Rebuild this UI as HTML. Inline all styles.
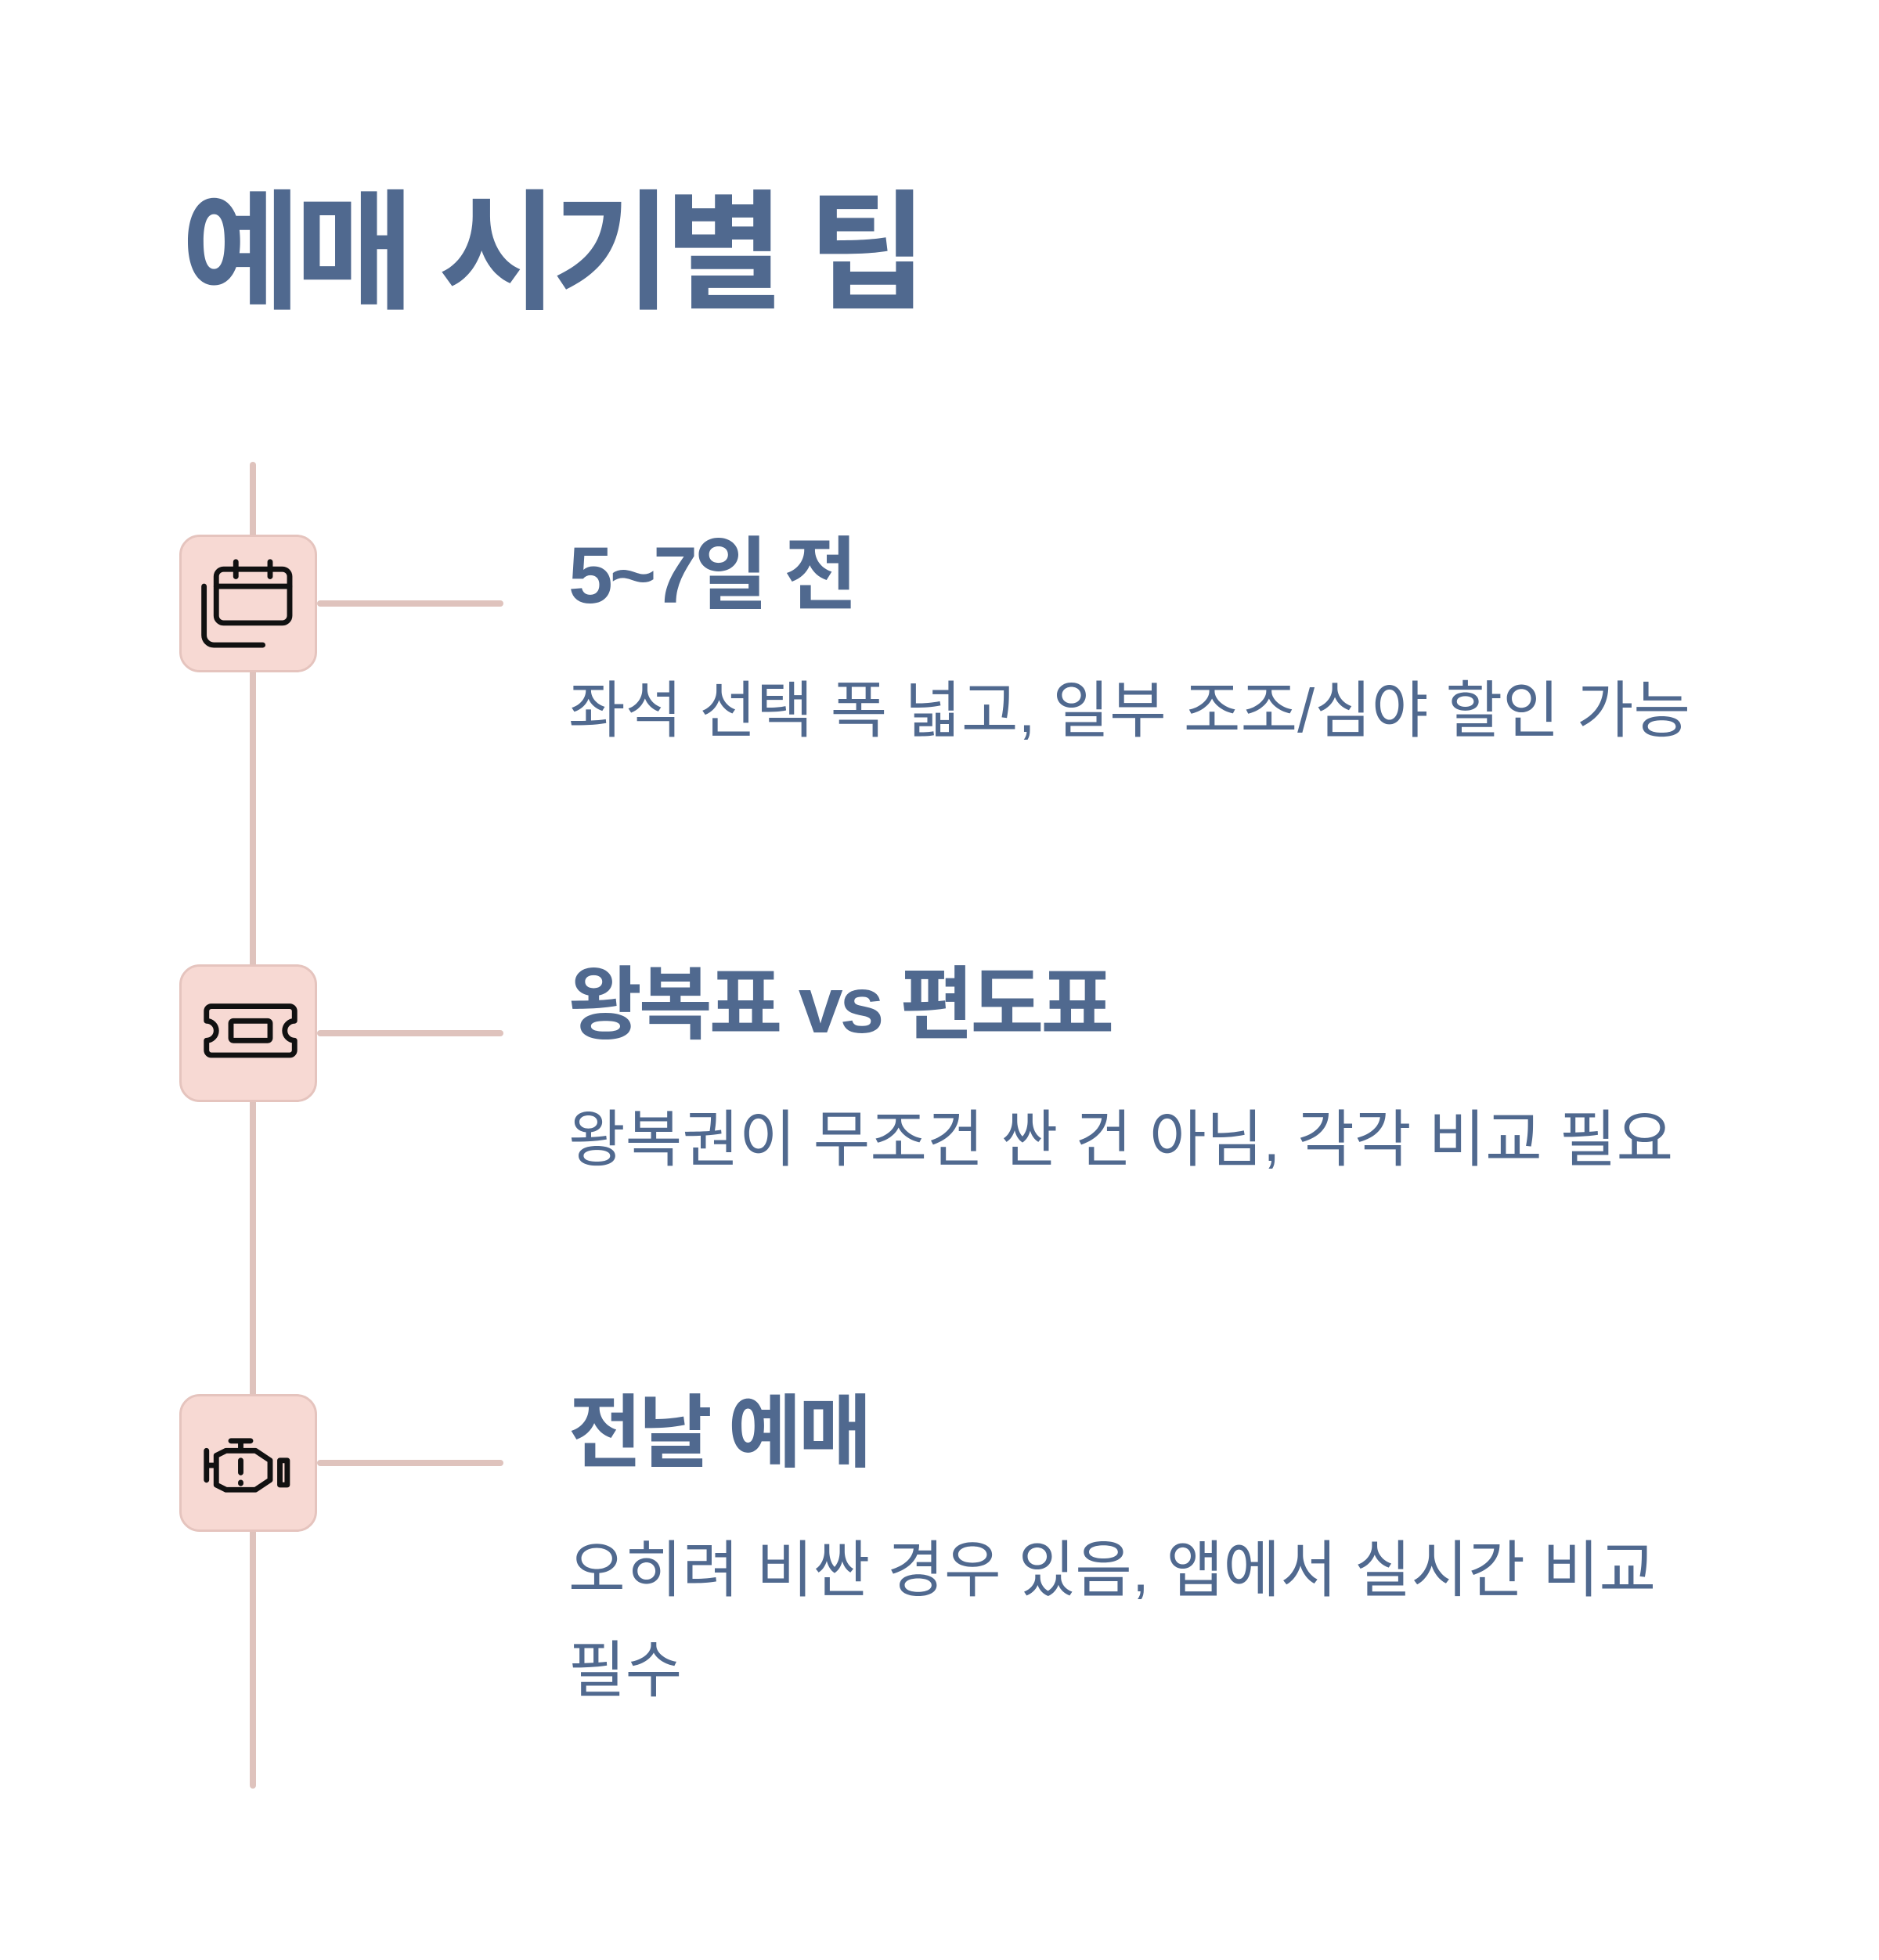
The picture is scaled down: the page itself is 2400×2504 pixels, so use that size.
<!DOCTYPE html>
<html><head><meta charset="utf-8"><style>
html,body{margin:0;padding:0;background:#fff;}
body{width:2400px;height:2504px;position:relative;overflow:hidden;font-family:"Liberation Sans","Noto Sans CJK KR",sans-serif;color:#50698f;}
.t{position:absolute;white-space:nowrap;line-height:1;}
.title{left:232px;top:242px;font-size:166px;font-weight:700;letter-spacing:-8px;}
.h{left:726px;font-size:102px;font-weight:700;letter-spacing:-4px;}
.d{left:726px;font-size:79px;font-weight:400;letter-spacing:0px;}
.box{position:absolute;left:229px;width:176px;height:176px;border-radius:26px;background:#f7d9d3;border:3px solid #e5c4be;box-sizing:border-box;}
.hl{position:absolute;left:405px;width:238px;height:8px;background:#dfc3bd;border-radius:4px;}
.box svg{position:absolute;left:13px;top:13px;}
</style></head><body>
<div class="t title">예매 시기별 팁</div>
<div style="position:absolute;left:319px;top:590px;width:8px;height:1695px;background:#dfc3bd;border-radius:4px;"></div>

<div class="hl" style="top:767px"></div>
<div class="box" style="top:683px"><svg width="150" height="150" viewBox="0 0 24 24" fill="none" stroke="#111" stroke-width="1.1" stroke-linecap="round" stroke-linejoin="round"><rect x="5" y="4.5" width="15" height="11" rx="1.5"/><path d="M5 8h15M9 3v3M16 3v3"/><path d="M2.5 8v10a2 2 0 0 0 2 2h10"/></svg></div>
<div class="t h" style="top:684px">5~7일 전</div>
<div class="t d" style="top:868px">좌석 선택 폭 넓고, 일부 조조/심야 할인 가능</div>

<div class="hl" style="top:1316px"></div>
<div class="box" style="top:1232px"><svg width="150" height="150" viewBox="0 0 24 24" fill="none" stroke="#111" stroke-width="1.1" stroke-linecap="round" stroke-linejoin="round"><path d="M3 7a1 1 0 0 1 1-1h16a1 1 0 0 1 1 1v2a2 2 0 0 0 0 4v2a1 1 0 0 1-1 1H4a1 1 0 0 1-1-1v-2a2 2 0 0 0 0-4z"/><rect x="8" y="9" width="8" height="4" rx="0.5"/></svg></div>
<div class="t h" style="top:1233px">왕복표 vs 편도표</div>
<div class="t d" style="top:1416px">왕복권이 무조건 싼 건 아님, 각각 비교 필요</div>

<div class="hl" style="top:1865px"></div>
<div class="box" style="top:1781px"><svg width="150" height="150" viewBox="0 0 24 24" fill="none" stroke="#111" stroke-width="1.1" stroke-linecap="round" stroke-linejoin="round"><path d="M3 9v6M3 12h2M8 7h4M10 7v2M5 10l2-1h6l3 2v4l-3 2H7l-2-1z"/><path d="M18 11h1.5v5H18z"/><path d="M10 11v2.5M10 15.5v.2"/></svg></div>
<div class="t h" style="top:1780px">전날 예매</div>
<div class="t d" style="top:1966px">오히려 비싼 경우 있음, 앱에서 실시간 비교</div>
<div class="t d" style="top:2094px">필수</div>
</body></html>
